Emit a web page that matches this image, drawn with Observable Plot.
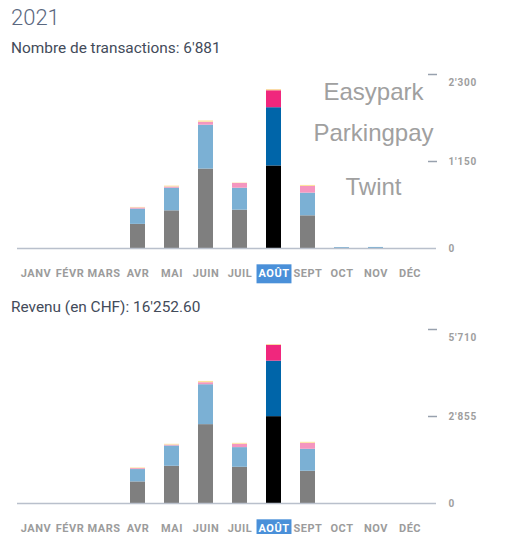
<!DOCTYPE html>
<html>
<head>
<meta charset="utf-8">
<script src="https://cdn.jsdelivr.net/npm/d3@7"></script>
<script src="https://cdn.jsdelivr.net/npm/@observablehq/plot@0.6"></script>
<style>
  html, body { margin: 0; padding: 0; background: #fff; }
  #root { position: relative; width: 516px; height: 534px; overflow: hidden; font-family: Roboto, sans-serif; }
  .title { position: absolute; left: 11px; top: 7px; font-size: 22px; font-weight: 300; color: #5b6880; line-height: 1; }
  .sub { position: absolute; left: 11px; font-size: 15.4px; font-weight: 400; color: #434b5a; line-height: 1; }
  .chart { position: absolute; left: 0; }
  .chart svg { overflow: visible; }
  .chart g[aria-label="x-axis tick label"] text { letter-spacing: 0.5px; }
  .chart g[aria-label="y-axis tick label"] text { letter-spacing: 0.8px; }
</style>
</head>
<body>
<div id="root">
  <div class="title">2021</div>
  <div class="sub" style="top:41px">Nombre de transactions: 6'881</div>
  <div class="chart" id="c1" style="top:64px"></div>
  <div class="sub" style="top:300px">Revenu (en CHF): 16'252.60</div>
  <div class="chart" id="c2" style="top:319px"></div>
</div>
<script>
const months = ["JANV","FÉVR","MARS","AVR","MAI","JUIN","JUIL","AOÛT","SEPT","OCT","NOV","DÉC"];
const seriesNames = ["Twint","Parkingpay","Easypark","Autre"];
const legendNames = ["Easypark","Parkingpay","Twint"];
const highlightMonth = "AOÛT";

// Nombre de transactions
const txTwint      = [0,0,0,319,498,1050,507,1091,432,0,0,0];
const txParkingpay = [0,0,0,202,300,580,290,770,300,12,14,0];
const txEasypark   = [0,0,0,15,15,39,63,224,88,0,0,0];
const txAutre      = [0,0,0,7,12,17,5,13,14,0,0,0];
const txTicks = [0, 1150, 2300];

// Revenu (CHF)
const rvTwint      = [0,0,0,708,1222,2588,1189,2850,1058,0,0,0];
const rvParkingpay = [0,0,0,406,665,1310,645,1822,721,0,0,0];
const rvEasypark   = [0,0,0,30,30,66,109,514,196,0,0,0];
const rvAutre      = [0,0,0,22,26,42,32,23,33,0,0,0];
const rvTicks = [0, 2855, 5710];

function toRows(arrs) {
  const rows = [];
  seriesNames.forEach((s, si) => {
    months.forEach((m, mi) => rows.push({month: m, series: s, value: arrs[si][mi]}));
  });
  return rows;
}

const colorDomain = [];
const colorRange = [];
const normalColors = {Twint: "#7f7f7f", Parkingpay: "#7bb0d4", Easypark: "#f596bf", Autre: "#fde39c"};
const hiColors = {Twint: "#000000", Parkingpay: "#0065a9", Easypark: "#f0277d", Autre: "#f8cd84"};
seriesNames.forEach(s => {
  colorDomain.push(s, s + "*");
  colorRange.push(normalColors[s], hiColors[s]);
});

const locale = d3.formatLocale({decimal: ".", thousands: "'", grouping: [3], currency: ["", ""]});
const fmt = locale.format(",");

function makeChart(el, arrs, ticks, withLegend) {
  const data = toRows(arrs);
  const top = ticks[ticks.length - 1];
  const mid = ticks[1];
  const marks = [
    Plot.barY(data, Plot.stackY({
      x: "month", y: "value", z: "series",
      order: seriesNames,
      fill: d => d.month === highlightMonth ? d.series + "*" : d.series
    })),
    Plot.ruleY([0], {stroke: "#b9c0cc", strokeWidth: 1.5, insetRight: -9}),
    Plot.axisX({tickSize: 0, tickPadding: 21, fontSize: 11, fontWeight: 700, fill: "#9c9c9c"}),
    Plot.axisY({anchor: "right", ticks: [mid, top], tickSize: 9, tickFormat: () => "", stroke: "#98a1ae", strokeWidth: 1.5}),
    Plot.axisY({anchor: "right", ticks: [0, mid], tickSize: 0, tickPadding: 21, tickFormat: fmt, textAnchor: "start", fontSize: 10, fontWeight: 700, fill: "#9e9e9e"}),
    Plot.axisY({anchor: "right", ticks: [top], tickSize: 0, tickPadding: 21, dy: 8, tickFormat: fmt, textAnchor: "start", fontSize: 10, fontWeight: 700, fill: "#9e9e9e"})
  ];
  if (withLegend) {
    const dys = [25, 66, 120];
    legendNames.forEach((n, i) => {
      marks.push(Plot.text([n], {
        text: d => d, frameAnchor: "top-left", dx: 356, dy: dys[i],
        textAnchor: "middle", lineAnchor: "bottom",
        fontSize: 24, fontFamily: "'Liberation Sans', Arial, sans-serif", fill: "#a0a0a0"
      }));
    });
  }
  const chart = Plot.plot({
    width: 516, height: 220,
    marginLeft: 17, marginRight: 89, marginTop: 10, marginBottom: 36,
    style: {fontFamily: "Roboto, sans-serif", background: "transparent"},
    x: {type: "band", domain: months, paddingInner: 0.56, paddingOuter: 0.26, label: null},
    y: {domain: [0, top], label: null},
    color: {domain: colorDomain, range: colorRange},
    marks
  });
  el.appendChild(chart);
  // highlight box behind the selected month label
  chart.querySelectorAll('g[aria-label="x-axis tick label"] text').forEach(t => {
    if (t.textContent === highlightMonth) {
      const b = t.getBBox();
      const r = document.createElementNS("http://www.w3.org/2000/svg", "rect");
      r.setAttribute("x", b.x - 2);
      r.setAttribute("y", b.y - 3);
      r.setAttribute("width", b.width + 4);
      r.setAttribute("height", b.height + 6);
      r.setAttribute("fill", "#4a90d9");
      if (t.getAttribute("transform")) r.setAttribute("transform", t.getAttribute("transform"));
      t.parentNode.insertBefore(r, t);
      t.setAttribute("fill", "#ffffff");
    }
  });
}

makeChart(document.getElementById("c1"), [txTwint, txParkingpay, txEasypark, txAutre], txTicks, true);
makeChart(document.getElementById("c2"), [rvTwint, rvParkingpay, rvEasypark, rvAutre], rvTicks, false);
</script>
</body>
</html>
